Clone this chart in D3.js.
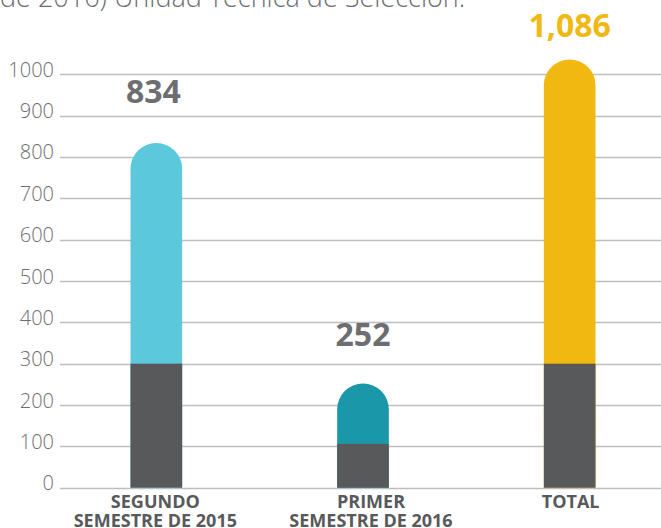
<!DOCTYPE html>
<html><head><meta charset="utf-8">
<script src="https://cdn.jsdelivr.net/npm/d3@7"></script>
<style>
html,body{margin:0;padding:0;background:#fff;}
svg{display:block;font-family:"Open Sans",sans-serif;}
</style></head>
<body><svg id="c" width="661" height="528"></svg>
<script>
// ---- data ----
const categories = [["SEGUNDO","SEMESTRE DE 2015"],["PRIMER","SEMESTRE DE 2016"],["TOTAL"]];
const totalLabels = ["834","252","1,086"];
const barTops = [834, 252, 1036];   // drawn bar heights
const baseValues = [300, 106, 300]; // dark lower segment
const yTicks = [0,100,200,300,400,500,600,700,800,900,1000];
const titleText = "de 2016) Unidad Técnica de Selección.";

// ---- styles ----
const topColors = ["#5bc8db","#1a98a9","#f2b812"];
const labelColors = ["#6d6e71","#6d6e71","#f2b812"];
const darkColor = "#58595b";
const labelOffsets = [40, 38, 22];
const catShift = [-1, 8, 1];

const svg = d3.select("#c");
const y = d3.scaleLinear().domain([0,1000]).range([487.7, 74.3]);
const x = d3.scaleBand().domain(d3.range(categories.length)).range([53, 673])
  .paddingInner(0.75).paddingOuter(0.375);

// title (cropped at the top edge)
svg.append("text").attr("x", 0).attr("y", 7).attr("fill","#6d6e71")
  .attr("font-size", 27).attr("font-weight", 300).text(titleText);

// axis
const axis = d3.axisLeft(y).tickValues(yTicks).tickSize(0).tickPadding(6).tickFormat(d3.format("d"));
const gA = svg.append("g").attr("transform","translate(60,0)").call(axis);
gA.select(".domain").remove();
gA.selectAll("text").attr("fill","#6d6e71").attr("font-size",20).attr("font-weight",300)
  .attr("font-family","'Open Sans',sans-serif").attr("dy","0.1em");

// gridlines
svg.append("g").selectAll("line").data(yTicks).join("line")
  .attr("x1",60).attr("x2",661).attr("y1",d=>Math.round(y(d))+0.5).attr("y2",d=>Math.round(y(d))+0.5)
  .attr("stroke","#bcbec0").attr("stroke-width",1.3);

// bars
const bw = x.bandwidth(), r = bw/2;
const g = svg.append("g");
barTops.forEach((v,i)=>{
  const x0 = x(i), yt = y(v), yb = y(0);
  const p = `M${x0},${yb} L${x0},${yt+r} A${r},${r} 0 0 1 ${x0+bw},${yt+r} L${x0+bw},${yb} Z`;
  g.append("path").attr("d",p).attr("fill",topColors[i]);
  g.append("rect").attr("x",x0).attr("y",y(baseValues[i])).attr("width",bw)
    .attr("height",yb-y(baseValues[i])).attr("fill",darkColor);
  g.append("text").attr("x",x0+bw/2 - (i===0?3:0)).attr("y",yt-labelOffsets[i]).attr("text-anchor","middle")
    .attr("font-size",32).attr("font-weight",700).attr("fill",labelColors[i]).text(totalLabels[i]);
});

// category labels
const cg = svg.append("g");
categories.forEach((lines,i)=>{
  const t = cg.append("text").attr("text-anchor","middle").attr("font-size",18)
    .attr("font-weight",700).attr("fill",darkColor);
  lines.forEach((ln,j)=>{
    t.append("tspan").attr("x",x(i)+bw/2 + catShift[i]).attr("y",508+j*19).text(ln);
  });
});
</script></body></html>
